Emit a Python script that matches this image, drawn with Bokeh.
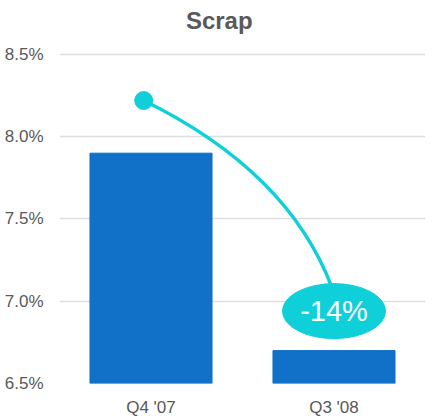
from bokeh.plotting import figure
from bokeh.models import FixedTicker, PrintfTickFormatter, Range1d, ColumnDataSource
from bokeh.embed import file_html
from bokeh.resources import INLINE
from bokeh.core.properties import value

# Data
categories = ["Q4 '07", "Q3 '08"]
scrap_pct = [7.9, 6.7]
change_label = "-14%"
chart_title = "Scrap"
y_ticks = [6.5, 7.0, 7.5, 8.0, 8.5]

BAR = "#1170c8"
CYAN = "#0fd0d8"
GREY = "#595959"
FONT = "Liberation Sans"

xpos = [i + 0.5 for i in range(len(categories))]

# upper part of the y range leaves room for the title inside the frame
p = figure(width=425, height=419, output_backend="svg", toolbar_location=None,
           x_range=Range1d(0, len(categories)), y_range=Range1d(6.5, 8.828),
           min_border_left=59, min_border_right=0,
           min_border_top=0, min_border_bottom=24)
p.outline_line_color = None
p.background_fill_color = "white"
p.border_fill_color = "white"

src = ColumnDataSource(dict(x=xpos, top=scrap_pct))
p.vbar(x="x", top="top", bottom=6.5, width=0.667, source=src, color=BAR)

# Axes
p.xaxis.ticker = FixedTicker(ticks=xpos)
p.xaxis.major_label_overrides = {x: c for x, c in zip(xpos, categories)}
p.yaxis.ticker = FixedTicker(ticks=y_ticks)
p.yaxis.formatter = PrintfTickFormatter(format="%.1f%%")
for ax in (p.xaxis[0], p.yaxis[0]):
    ax.axis_line_color = None
    ax.major_tick_line_color = None
    ax.minor_tick_line_color = None
    ax.major_label_text_font = FONT
    ax.major_label_text_font_size = "17px"
    ax.major_label_text_color = GREY
p.yaxis.major_label_standoff = 10
p.xaxis.major_label_standoff = 8

p.xgrid.grid_line_color = None
p.ygrid.ticker = FixedTicker(ticks=y_ticks)
p.ygrid.grid_line_color = "#dedede"
p.ygrid.grid_line_width = 1.5

# Title
p.text(x=[0.873], y=[8.707], text=[chart_title], text_align="center",
       text_baseline="middle", text_color=GREY, text_font_size="24px",
       text_font_style="bold", text_font=value(FONT))

# Annotation: curve from dot to ellipse
x0, y0 = 0.46, 8.22
cx, cy = 1.25, 7.79
x1, y1 = 1.49, 7.08
p.quadratic(x0=[x0], y0=[y0], x1=[x1], y1=[y1], cx=[cx], cy=[cy],
            line_color=CYAN, line_width=3.5)
p.scatter([x0], [y0], size=18, color=CYAN)
p.ellipse(x=[1.5], y=[6.94], width=103, height=55,
          width_units="screen", height_units="screen", color=CYAN)
p.text(x=[1.5], y=[6.94], text=[change_label], text_align="center",
       text_baseline="middle", text_color="white", text_font_size="29px",
       text_font=value(FONT))

open("out.html", "w").write(file_html(p, INLINE))
